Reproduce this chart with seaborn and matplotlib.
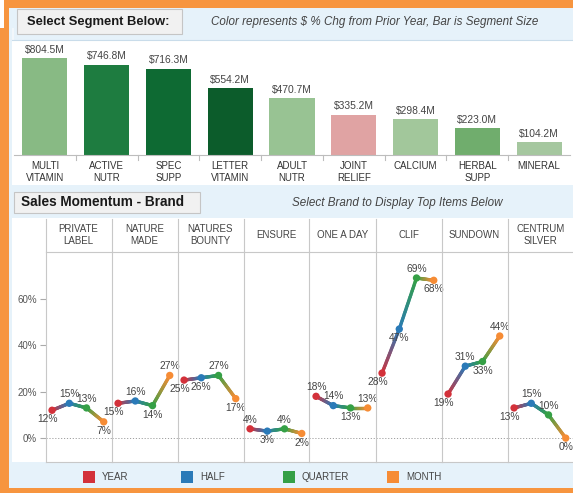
import numpy as np
import pandas as pd
import matplotlib
matplotlib.use("Agg")
import matplotlib.pyplot as plt
from matplotlib.patches import Rectangle
from matplotlib.collections import LineCollection
from matplotlib.lines import Line2D
import matplotlib.colors as mcolors
import seaborn as sns

# ---------------- data ----------------
segments = ["MULTI\nVITAMIN", "ACTIVE\nNUTR", "SPEC\nSUPP", "LETTER\nVITAMIN", "ADULT\nNUTR",
            "JOINT\nRELIEF", "CALCIUM", "HERBAL\nSUPP", "MINERAL"]
segment_sales = [804.5, 746.8, 716.3, 554.2, 470.7, 335.2, 298.4, 223.0, 104.2]
segment_colors = ["#88ba84", "#1e7c40", "#0e6a33", "#0c5c2b", "#98c393",
                  "#e0a3a3", "#a2c79b", "#70ad6d", "#a5c79f"]

brands = ["PRIVATE\nLABEL", "NATURE\nMADE", "NATURES\nBOUNTY", "ENSURE", "ONE A DAY",
          "CLIF", "SUNDOWN", "CENTRUM\nSILVER"]
periods = ["YEAR", "HALF", "QUARTER", "MONTH"]
year_chg    = [12, 15, 25, 4, 18, 28, 19, 13]
half_chg    = [15, 16, 26, 3, 14, 47, 31, 15]
quarter_chg = [13, 14, 27, 4, 13, 69, 33, 10]
month_chg   = [7, 27, 17, 2, 13, 68, 44, 0]
period_colors = ["#d3313a", "#2a7ab8", "#35a046", "#f68c35"]
y_ticks = [0, 20, 40, 60]

# ---------------- figure ----------------
plt.rcParams["font.family"] = ["Liberation Sans", "DejaVu Sans"]
W, H = 573, 493
fig = plt.figure(figsize=(W / 100, H / 100), dpi=100)
fig.patch.set_facecolor("white")

def fx(x):
    return x / W

def fy(y):
    return 1 - y / H

def frect(x0, y0, x1, y1, **kw):
    r = Rectangle((fx(x0), fy(y1)), fx(x1) - fx(x0), fy(y0) - fy(y1),
                  transform=fig.transFigure, **kw)
    fig.patches.append(r)
    return r

def fline(x0, y0, x1, y1, **kw):
    fig.lines.append(Line2D([fx(x0), fx(x1)], [fy(y0), fy(y1)], transform=fig.transFigure, **kw))

ORANGE = "#f7953f"
LBLUE = "#e6f2fa"

# orange frame
frect(4, 0, 573, 493, facecolor=ORANGE, edgecolor="none", zorder=0)
frect(0, 28, 12, 493, facecolor=ORANGE, edgecolor="none", zorder=0)
frect(9, 8, 573, 488, facecolor=LBLUE, edgecolor="none", zorder=0.1)
frect(0, 108, 9, 493, facecolor=ORANGE, edgecolor="none", zorder=0.12)
frect(12, 28, 14, 108, facecolor="#f2f7fb", edgecolor="none", zorder=0.15)
# white areas
frect(12, 40, 573, 185, facecolor="white", edgecolor="none", zorder=0.2)
fline(12, 40, 573, 40, color="#c9dcea", lw=0.8, zorder=0.3)
frect(12, 218, 573, 462, facecolor="white", edgecolor="none", zorder=0.2)

# title boxes
frect(17, 9, 182, 34, facecolor="#f1f1f1", edgecolor="#c5c5c5", lw=0.8, zorder=1)
fig.text(fx(27), fy(21.5), "Select Segment Below:", fontsize=9.4, fontweight="bold",
         color="#1a1a1a", ha="left", va="center", zorder=2)
fig.text(fx(375), fy(21.5), "Color represents \\$ % Chg from Prior Year, Bar is Segment Size",
         fontsize=8.4, style="italic", color="#444444", ha="center", va="center", zorder=2)
frect(14, 192, 200, 213, facecolor="#f1f1f1", edgecolor="#c5c5c5", lw=0.8, zorder=1)
fig.text(fx(21), fy(202.5), "Sales Momentum - Brand", fontsize=9.8, fontweight="bold",
         color="#1a1a1a", ha="left", va="center", zorder=2)
fig.text(fx(397), fy(203), "Select Brand to Display Top Items Below",
         fontsize=8.4, style="italic", color="#444444", ha="center", va="center", zorder=2)

# ---------------- bar chart ----------------
axb = fig.add_axes([fx(14), fy(155), fx(570) - fx(14), fy(42) - fy(155)])
axb.set_zorder(3)
axb.set_facecolor("none")
bar_df = pd.DataFrame({"segment": segments, "sales": segment_sales})
sns.barplot(data=bar_df, x="segment", y="sales", hue="segment", palette=segment_colors,
            legend=False, width=0.73, ax=axb, saturation=1)
axb.set_xlim(-0.5, len(segments) - 0.5)
axb.set_ylim(0, 937)
for s in axb.spines.values():
    s.set_visible(False)
axb.spines["bottom"].set_visible(True)
axb.spines["bottom"].set_color("#bdbdbd")
axb.spines["bottom"].set_linewidth(0.8)
axb.set_yticks([])
axb.set_xlabel("")
axb.set_ylabel("")
axb.set_xticks(range(len(segments)))
axb.set_xticklabels(segments, fontsize=7, color="#333333", linespacing=1.25)
axb.tick_params(axis="x", length=0, pad=4)
for i, v in enumerate(segment_sales):
    axb.annotate(f"\\${v:.1f}M", (i, v), xytext=(0, 2.5), textcoords="offset points",
                 ha="center", va="bottom", fontsize=7.4, color="#444444")
for b in np.arange(0.5, len(segments) - 0.5, 1.0):
    axb.plot([b, b], [0, -0.04], transform=axb.get_xaxis_transform(), color="#bdbdbd",
             lw=0.8, clip_on=False)

# ---------------- small multiples ----------------
vals = np.array([year_chg, half_chg, quarter_chg, month_chg]).T  # brand x period
col_w = 66
x0 = 45.5
n = len(periods)
for bi, brand in enumerate(brands):
    left = x0 + col_w * bi
    ax = fig.add_axes([fx(left), fy(462), fx(left + col_w) - fx(left), fy(252) - fy(462)])
    ax.set_zorder(3)
    ax.set_facecolor("none")
    ax.set_xlim(-0.38, 3.45)
    ax.set_ylim(-10.3, 80.2)
    for name, s in ax.spines.items():
        s.set_color("#c8c8c8")
        s.set_linewidth(0.8)
    ax.spines["right"].set_visible(False)
    ax.set_xticks([])
    if bi == 0:
        ax.set_yticks(y_ticks)
        ax.set_yticklabels([f"{t}%" for t in y_ticks], fontsize=7, color="#555555")
        ax.tick_params(axis="y", length=4, color="#aaaaaa", pad=2)
    else:
        ax.set_yticks([])
    ax.axhline(0, color="#a0a0a0", lw=0.7, ls=(0, (1.2, 1.8)), zorder=1)

    v = vals[bi]
    xs = np.arange(n)
    # gradient line
    segs, cols = [], []
    nsub = 24
    for k in range(n - 1):
        c0 = np.array(mcolors.to_rgb(period_colors[k]))
        c1 = np.array(mcolors.to_rgb(period_colors[k + 1]))
        t = np.linspace(0, 1, nsub + 1)
        px = xs[k] + (xs[k + 1] - xs[k]) * t
        py = v[k] + (v[k + 1] - v[k]) * t
        for j in range(nsub):
            segs.append([(px[j], py[j]), (px[j + 1], py[j + 1])])
            cols.append(tuple(c0 + (c1 - c0) * (j + 0.5) / nsub))
    lc = LineCollection(segs, colors=cols, linewidths=2.4, capstyle="round", zorder=2)
    ax.add_collection(lc)
    pdf = pd.DataFrame({"x": xs, "y": v, "period": periods})
    sns.scatterplot(data=pdf, x="x", y="y", hue="period", palette=period_colors,
                    s=28, edgecolor="none", legend=False, ax=ax, zorder=3)
    ax.set_xlabel("")
    ax.set_ylabel("")
    above = []
    for k in range(n):
        if k == 0:
            above.append(v[k] > v[k + 1])
        elif k == n - 1:
            above.append(v[k] >= v[k - 1])
        else:
            above.append(v[k] > (v[k - 1] + v[k + 1]) / 2)
    for k in range(1, n - 2):
        if not above[k] and not above[k + 1]:
            above[k] = True
    for k in range(n):
        dx = -3 if (k == 0 and not above[k]) else 0
        ax.annotate(f"{v[k]}%", (xs[k], v[k]), xytext=(dx, 3 if above[k] else -3),
                    textcoords="offset points", ha="center",
                    va="bottom" if above[k] else "top", fontsize=7.4, color="#444444",
                    zorder=4, annotation_clip=False)
    # header
    fig.text(fx(left + col_w / 2), fy(235), brand, fontsize=7, color="#444444",
             ha="center", va="center", linespacing=1.25)

# header vertical lines
for bi in range(len(brands)):
    xl = x0 + col_w * bi
    fline(xl, 219, xl, 252, color="#c8c8c8", lw=0.8)

# ---------------- legend ----------------
leg_x = [83, 181, 283, 387]
for px_, name, c in zip(leg_x, periods, period_colors):
    frect(px_, 471, px_ + 12, 483, facecolor=c, edgecolor="none", zorder=2)
    fig.text(fx(px_ + 19), fy(477.5), name, fontsize=7, color="#444444",
             ha="left", va="center")

fig.savefig("out.png", dpi=100)
